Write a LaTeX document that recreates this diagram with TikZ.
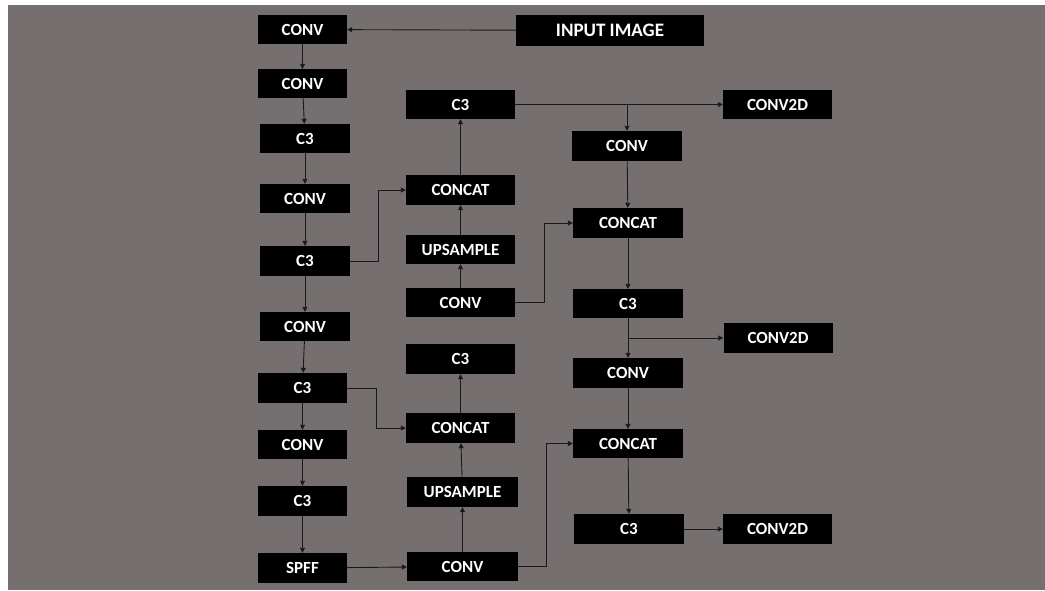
\documentclass[tikz,border=0pt]{standalone}
\usepackage{fontspec}
\setmainfont{Carlito}
\usetikzlibrary{arrows.meta}
\definecolor{bggray}{RGB}{117,112,111}

\begin{document}
\begin{tikzpicture}[x=1pt,y=-1pt,
        blk/.style={fill=black,text=white,inner sep=0pt,
            font=\bfseries\fontsize{17}{20}\selectfont,
            minimum width=89pt,minimum height=29pt},
        arr/.style={-{Triangle[length=5pt,width=5pt]},line width=0.9pt,draw=black!90}]
    \useasboundingbox (0,0) rectangle (1045,590);
    \fill[white] (0,0) rectangle (1045,590);
    \fill[bggray] (8,5) rectangle (1045,590);

    % backbone
    \node[blk] (conv1) at (302.5,29.5) {CONV};
    \node[blk] (conv2) at (302.5,83.5) {CONV};
    \node[blk,minimum width=90pt] (c31) at (305,138.5) {C3};
    \node[blk,minimum width=90pt] (conv3) at (305,198.5) {CONV};
    \node[blk,minimum width=90pt,minimum height=30pt] (c32) at (305,261) {C3};
    \node[blk,minimum width=90pt] (conv4) at (305,326.5) {CONV};
    \node[blk,minimum height=30pt] (c33) at (302.5,388) {C3};
    \node[blk] (conv5) at (302.5,444.5) {CONV};
    \node[blk,minimum height=30pt] (c34) at (302.5,501) {C3};
    \node[blk,minimum height=30pt] (spff) at (302.5,568) {SPFF};

    \node[blk,minimum width=188pt,minimum height=31pt,
        font=\bfseries\fontsize{19}{22}\selectfont] (input) at (610,30.5) {INPUT IMAGE};

    % neck
    \node[blk,minimum width=109pt] (c3top) at (460.5,104.5) {C3};
    \node[blk,minimum width=109pt,minimum height=30pt] (cattop) at (460.5,190) {CONCAT};
    \node[blk,minimum width=109pt] (uptop) at (460.5,249.5) {UPSAMPLE};
    \node[blk,minimum width=109pt] (convmid) at (460.5,302.5) {CONV};
    \node[blk,minimum width=109pt,minimum height=30pt] (c3mid) at (460.5,359) {C3};
    \node[blk,minimum width=109pt,minimum height=30pt] (catmid) at (460.5,428) {CONCAT};
    \node[blk,minimum width=111pt,minimum height=30pt] (upbot) at (462.5,492) {UPSAMPLE};
    \node[blk,minimum width=111pt] (convbot) at (462.5,566.5) {CONV};

    % head
    \node[blk,minimum width=110pt,minimum height=30pt] (convr1) at (627,146) {CONV};
    \node[blk,minimum width=110pt,minimum height=30pt] (catr1) at (628,223) {CONCAT};
    \node[blk,minimum width=110pt] (c3r1) at (628,303.5) {C3};
    \node[blk,minimum width=110pt,minimum height=30pt] (convr2) at (628,373) {CONV};
    \node[blk,minimum width=110pt] (catr2) at (628,443.5) {CONCAT};
    \node[blk,minimum width=110pt,minimum height=30pt] (c3r2) at (629,529) {C3};

    \node[blk,minimum width=109pt] (det1) at (777.5,104.5) {CONV2D};
    \node[blk,minimum width=109pt,minimum height=30pt] (det2) at (778,338) {CONV2D};
    \node[blk,minimum width=109pt,minimum height=30pt] (det3) at (777.5,529) {CONV2D};

    % connections
    \draw[arr] (input) -- (conv1);
    \foreach \a/\b in {conv1/conv2,conv2/c31,c31/conv3,conv3/c32,c32/conv4,
                       conv4/c33,c33/conv5,conv5/c34,c34/spff}
        \draw[arr] (\a) -- (\b);
    \draw[arr] (spff) -- (convbot);

    \foreach \a/\b in {convbot/upbot,upbot/catmid,catmid/c3mid,
                       convmid/uptop,uptop/cattop,cattop/c3top}
        \draw[arr] (\a) -- (\b);
    \draw[arr] (c32.east) -- ++(28,0) |- (cattop.west);
    \draw[arr] (c33.east) -- ++(29,0) |- (catmid.west);

    \draw[arr] (c3top) -- (det1);
    \draw[arr] (c3top -| convr1) -- (convr1);
    \foreach \a/\b in {convr1/catr1,catr1/c3r1,c3r1/convr2,convr2/catr2,catr2/c3r2}
        \draw[arr] (\a) -- (\b);
    \draw[arr] (det2 -| c3r1) -- (det2);
    \draw[arr] (c3r2) -- (det3);
    \draw[arr] (convmid.east) -- ++(29,0) |- (catr1.west);
    \draw[arr] (convbot.east) -- ++(28,0) |- (catr2.west);
\end{tikzpicture}
\end{document}
